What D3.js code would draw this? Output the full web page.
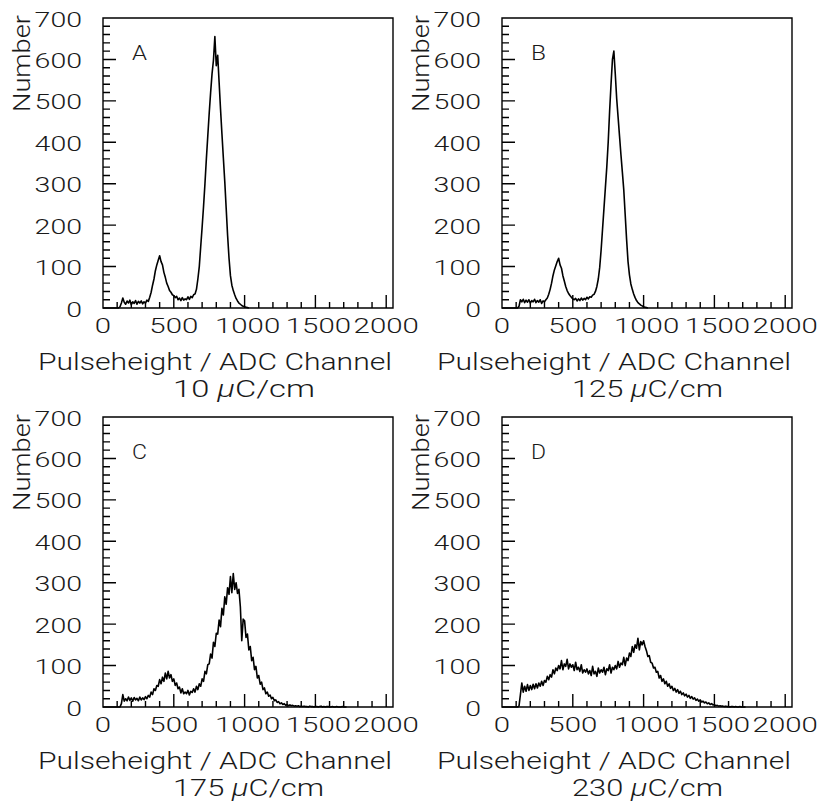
<!DOCTYPE html>
<html>
<head>
<meta charset="utf-8">
<script src="https://cdn.jsdelivr.net/npm/d3@7"></script>
<style>
  body { margin: 0; background: #fff; }
  svg text { font-family: Roboto, "DejaVu Sans", sans-serif; font-weight: 300; fill: #1a1a1a; }
</style>
</head>
<body>
<svg id="chart" width="821" height="805"></svg>
<script>
// histogram contents, one value per 10-channel bin starting at channel 0
// (ten values per row = 100 channels)
var binWidth = 10
var panelLetters = ["A", "B", "C", "D"]
var chargeLabels = ["10", "125", "175", "230"]
var xTickValues = [0, 500, 1000, 1500, 2000]
var yTickValues = [0, 100, 200, 300, 400, 500, 600, 700]

var countsA = [
  0, 0, 0, 0, 0, 0, 0, 0, 0, 0,
  0, 0, 3, 12, 24, 14, 9, 17, 12, 19,
  8, 15, 11, 18, 9, 16, 12, 17, 10, 15,
  12, 19, 16, 26, 38, 55, 70, 90, 104, 115,
  126, 112, 104, 86, 74, 60, 52, 42, 38, 32,
  30, 25, 28, 20, 24, 18, 25, 19, 22, 20,
  27, 21, 28, 25, 32, 34, 45, 70, 100, 148,
  195, 245, 300, 360, 415, 470, 520, 565, 598, 655,
  585, 610, 545, 480, 420, 362, 305, 240, 175, 120,
  78, 55, 42, 32, 23, 17, 12, 9, 6, 4,
  3, 2, 1, 0]

var countsB = [
  0, 0, 0, 0, 0, 0, 0, 0, 0, 0,
  0, 0, 4, 20, 15, 21, 13, 19, 14, 20,
  12, 18, 15, 21, 13, 18, 14, 20, 11, 17,
  15, 20, 24, 33, 45, 60, 78, 92, 102, 112,
  120, 104, 96, 78, 65, 52, 42, 35, 30, 26,
  22, 20, 23, 17, 22, 18, 24, 19, 23, 20,
  26, 22, 27, 26, 31, 33, 40, 52, 70, 98,
  140, 190, 240, 290, 340, 400, 475, 540, 600, 620,
  565, 505, 460, 415, 370, 328, 285, 225, 165, 112,
  80, 58, 45, 34, 25, 18, 13, 10, 7, 5,
  3, 2, 1, 0]

var countsC = [
  0, 0, 0, 0, 0, 0, 0, 0, 0, 0,
  0, 0, 0, 8, 30, 14, 20, 15, 24, 16,
  22, 14, 23, 17, 21, 15, 24, 17, 22, 18,
  25, 20, 28, 24, 36, 30, 44, 40, 52, 50,
  66, 56, 72, 62, 82, 68, 86, 70, 78, 62,
  68, 52, 58, 44, 48, 34, 44, 32, 36, 32,
  40, 29, 38, 35, 44, 36, 50, 42, 56, 50,
  68, 62, 86, 80, 102, 104, 128, 118, 156, 146,
  178, 176, 210, 194, 238, 222, 266, 248, 288, 272,
  315, 276, 322, 284, 300, 274, 284, 242, 160, 212,
  208, 168, 176, 138, 146, 112, 120, 90, 98, 70,
  76, 55, 60, 42, 46, 32, 36, 26, 29, 20,
  23, 15, 17, 11, 13, 8, 10, 6, 8, 4,
  6, 3, 5, 3, 4, 2, 3, 2, 3, 1,
  2, 1, 2, 1, 1, 0, 2, 1, 1, 0,
  1, 1, 0, 1, 2, 0, 1, 0, 1, 1,
  0, 0, 1, 0, 0, 1, 0, 0, 0, 1,
  0, 0, 0]

var countsD = [
  0, 0, 0, 0, 0, 0, 0, 0, 0, 0,
  0, 0, 2, 30, 58, 36, 50, 38, 54, 40,
  52, 42, 55, 44, 56, 46, 58, 50, 62, 52,
  64, 60, 74, 66, 78, 72, 90, 80, 94, 88,
  100, 92, 112, 90, 104, 98, 115, 92, 104, 96,
  102, 88, 108, 90, 96, 86, 102, 82, 90, 84,
  92, 80, 88, 76, 98, 80, 86, 74, 94, 82,
  90, 84, 96, 78, 92, 88, 102, 82, 96, 90,
  100, 92, 110, 96, 106, 102, 120, 100, 118, 112,
  130, 122, 146, 132, 150, 142, 166, 138, 158, 150,
  160, 146, 136, 122, 124, 108, 106, 94, 96, 84,
  86, 70, 76, 62, 68, 56, 62, 50, 56, 45,
  50, 40, 45, 36, 42, 33, 38, 30, 34, 27,
  31, 24, 28, 21, 25, 19, 22, 16, 19, 14,
  17, 12, 14, 10, 12, 8, 10, 6, 8, 5,
  6, 3, 4, 2, 3, 2, 2, 1, 2, 1,
  1, 0, 1, 1, 0, 1, 0, 0, 1, 0,
  0, 0, 0]

var panelCounts = [countsA, countsB, countsC, countsD]

var svg = d3.select("#chart")
var frameW = 290, frameH = 290
var origins = [[103, 18], [502, 18], [103, 417], [502, 417]]

var xScale = d3.scaleLinear().domain([0, 2048]).range([0, frameW])
var yScale = d3.scaleLinear().domain([0, 700]).range([frameH, 0])

var histLine = d3.line()
  .x((d, i) => xScale(i * binWidth))
  .y(d => yScale(d))

// frame outline plus inward ticks (every 20 counts / 100 channels),
// as one path so they share the frame's stroke
var framePath = d3.path()
framePath.rect(0, 0, frameW, frameH)
d3.range(20, 701, 20).forEach(function(v) {
  framePath.moveTo(0, yScale(v))
  framePath.lineTo(v % 100 === 0 ? 13 : 7, yScale(v))
})
d3.range(100, 2001, 100).forEach(function(v) {
  framePath.moveTo(xScale(v), frameH)
  framePath.lineTo(xScale(v), frameH - (v % 500 === 0 ? 13 : 6))
})

panelCounts.forEach(function(counts, p) {
  var g = svg.append("g")
    .attr("transform", `translate(${origins[p][0]},${origins[p][1]})`)

  // histogram
  g.append("path")
    .datum(counts)
    .attr("d", histLine)
    .attr("fill", "none")
    .attr("stroke", "#000")
    .attr("stroke-width", 1.6)
    .attr("stroke-linejoin", "round")

  // frame and ticks
  g.append("path")
    .attr("d", framePath.toString())
    .attr("fill", "none")
    .attr("stroke", "#000")
    .attr("stroke-width", 1.4)

  // tick labels
  g.selectAll(".ylab")
    .data(yTickValues)
    .enter()
    .append("text")
    .attr("class", "ylab")
    .attr("x", -21)
    .attr("y", d => yScale(d) + 8.5)
    .attr("text-anchor", "end")
    .attr("font-size", 21)
    .attr("textLength", d => String(d).length * 15.8)
    .attr("lengthAdjust", "spacingAndGlyphs")
    .text(d => d)

  g.selectAll(".xlab")
    .data(xTickValues)
    .enter()
    .append("text")
    .attr("class", "xlab")
    .attr("x", d => xScale(d) + (String(d).charAt(0) === "1" ? 3 : 0))
    .attr("y", frameH + 25)
    .attr("text-anchor", "middle")
    .attr("font-size", 21)
    .attr("textLength", d => String(d).length * 16.3)
    .attr("lengthAdjust", "spacingAndGlyphs")
    .text(d => d)

  g.append("text")
    .attr("x", 29)
    .attr("y", 42)
    .attr("font-size", 21)
    .attr("textLength", 15)
    .attr("lengthAdjust", "spacingAndGlyphs")
    .text(panelLetters[p])

  g.append("text")
    .attr("transform", "translate(-73,-3) rotate(-90)")
    .attr("text-anchor", "end")
    .attr("font-size", 23)
    .attr("textLength", 97)
    .attr("lengthAdjust", "spacingAndGlyphs")
    .text("Number")

  g.append("text")
    .attr("x", frameW - 1)
    .attr("y", frameH + 62)
    .attr("text-anchor", "end")
    .attr("font-size", 23)
    .attr("textLength", 354)
    .attr("lengthAdjust", "spacingAndGlyphs")
    .text("Pulseheight / ADC Channel")

  var sub = g.append("text")
    .attr("x", 70)
    .attr("y", frameH + 89)
    .attr("font-size", 23)
    .attr("textLength", 124 + 9 * chargeLabels[p].length)
    .attr("lengthAdjust", "spacingAndGlyphs")
  sub.append("tspan").text(chargeLabels[p] + " ")
  sub.append("tspan").attr("font-style", "italic").text("\u03bc")
  sub.append("tspan").text("C/cm")
})
</script>
</body>
</html>
